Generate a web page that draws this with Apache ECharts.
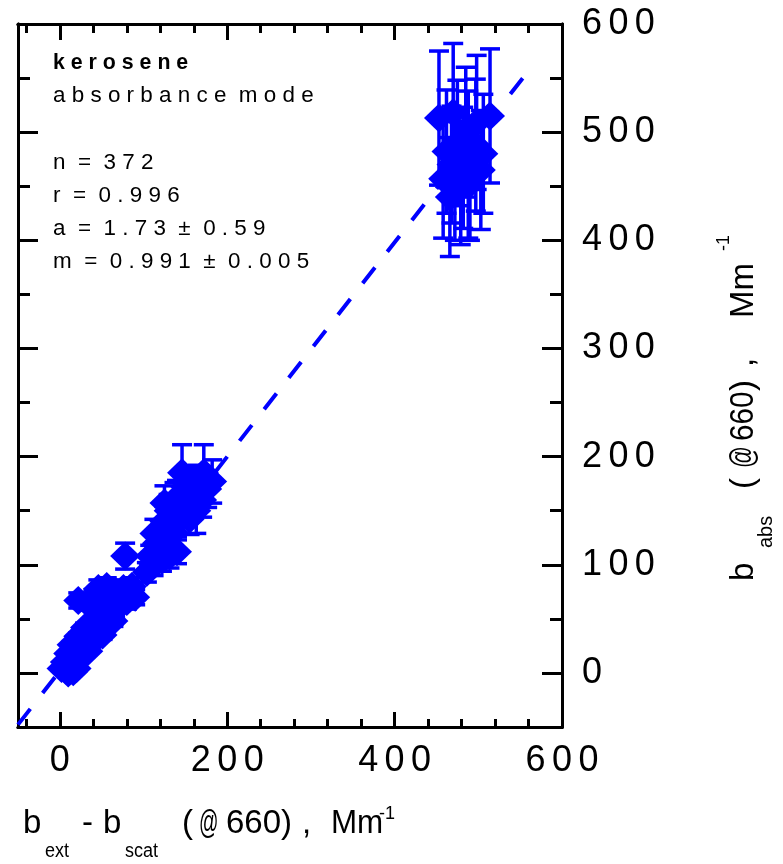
<!DOCTYPE html>
<html>
<head>
<meta charset="utf-8">
<title>kerosene absorbance</title>
<script src="https://cdn.jsdelivr.net/npm/echarts@6/dist/echarts.min.js"></script>
<style>
  html, body { margin: 0; padding: 0; background: #fff; }
  #main { width: 783px; height: 864px; }
</style>
</head>
<body>
<div id="main"></div>
<script>
'use strict';

// b_ext - b_scat (x), b_abs (y) and the error on b_abs, Mm-1
var xVals = [
  2, 8, 14, 20, 10, 16, 6, 12, 18, 24, 10, 16, 22, 28, 34, 14, 20, 26, 32, 36, 22, 28, 34, 40, 46, 51, 30, 38, 44, 50, 56, 42, 50, 60, 64,
  22, 34, 42, 48, 58, 66, 40, 50, 60, 72, 80, 90, 46, 56, 66, 76, 86, 60, 70, 84,
  78, 104, 108, 118, 112, 122, 131, 140, 116, 128, 113, 136, 125, 140, 155, 130, 145, 163, 137, 125, 140, 155, 170, 150, 165, 182, 146, 172, 176,
  453, 470, 498, 514, 497, 488, 466, 458, 479, 503, 468, 482, 475, 485, 462, 490, 506, 472
];
var yVals = [
  4, 2, 5, 4, 0, 1, 10, 12, 10, 14, 18, 20, 22, 20, 20, 26, 28, 30, 28, 26, 34, 36, 38, 35, 36, 35, 42, 44, 42, 40, 46, 50, 52, 50, 48,
  67, 64, 60, 56, 56, 58, 70, 68, 66, 64, 66, 70, 78, 80, 76, 78, 80, 72, 70, 74,
  108, 93, 108, 114, 100, 104, 108, 112, 120, 124, 129, 130, 140, 140, 142, 150, 152, 150, 155, 157, 162, 165, 160, 172, 175, 177, 185, 185, 170,
  513, 518, 509, 515, 488, 470, 440, 457, 453, 465, 470, 467, 490, 500, 482, 452, 480, 455
];
var yErr = [
  1, 1, 1, 1, 1, 1, 1, 1, 1, 2, 2, 2, 2, 2, 2, 3, 3, 3, 3, 3, 3, 4, 4, 4, 4, 4, 4, 4, 4, 4, 5, 5, 5, 5, 5,
  7, 6, 6, 6, 6, 6, 7, 7, 7, 7, 7, 7, 8, 8, 8, 8, 8, 7, 7, 7,
  12, 9, 10, 11, 10, 10, 11, 11, 12, 12, 13, 13, 14, 14, 14, 15, 15, 21, 21, 16, 16, 16, 16, 17, 17, 20, 26, 26, 17,
  62, 64, 62, 62, 61, 68, 55, 55, 57, 55, 54, 56, 58, 60, 57, 52, 55, 55
];

// fit line end points (a = 1.73, m = 0.991)
var fitX = [-50, 560];
var fitY = [-47.8, 556.7];

var xTicks = { min: -50, max: 600, major: 200, minor: 40 };
var yTicks = { min: -50, max: 600, major: 100, minor: 50 };

var noteLines = ['kerosene', 'absorbance mode', 'n = 372', 'r = 0.996', 'a = 1.73 \u00b1 0.59', 'm = 0.991 \u00b1 0.005'];

var FONT = "'Liberation Sans', Arial, sans-serif";
var BLUE = '#0000ff';

// the original has very wide letter spacing, fake it with small spaces
// (a space token between letters, two spaces between words)
function spaced(s) {
  var chars = String(s).split('');
  var out = '';
  chars.forEach(function (c, i) {
    if (c === ' ') {
      out += '{w|  }';
      return;
    }
    if (i > 0 && chars[i - 1] !== ' ') out += '{g| }';
    out += c;
  });
  return out;
}

function makeAxis(dim, pos, step, tickLen, withLabels) {
  var r = dim === 'x' ? xTicks : yTicks;
  var ax = {
    type: 'value',
    position: pos,
    min: r.min,
    max: r.max,
    minInterval: step,
    maxInterval: step,
    axisLine: { show: true, onZero: false, lineStyle: { color: '#000', width: 3 } },
    axisTick: { show: true, inside: true, length: tickLen, lineStyle: { color: '#000', width: 3 } },
    axisLabel: { show: false },
    splitLine: { show: false }
  };
  if (withLabels) {
    ax.axisLabel = {
      show: true,
      showMinLabel: false,
      margin: dim === 'x' ? 16 : 20,
      color: '#000',
      fontFamily: FONT,
      fontSize: 36,
      formatter: function (v) { return spaced(v); },
      rich: { g: { fontSize: 23 } }
    };
  }
  return ax;
}

// title pieces: [text, pos, size, kind, squeeze]  kind: n = normal, s = sub, p = super
var xTitle = [
  ['b', 23, 33, 'n', 1], ['ext', 45, 20, 's', 0.9], ['-', 82, 33, 'n', 1], ['b', 103, 33, 'n', 1], ['scat', 125, 20, 's', 0.9],
  ['(', 182, 33, 'n', 1], ['@', 199, 33, 'n', 0.58], ['660', 226, 33, 'n', 1], [')', 281, 33, 'n', 1], [',', 302, 33, 'n', 1],
  ['Mm', 331, 33, 'n', 0.95], ['-1', 379, 18, 'p', 1]
];
var yTitle = [
  ['b', 581, 33, 'n', 1], ['abs', 548, 20, 's', 1], ['(', 489, 33, 'n', 1], ['@', 468, 33, 'n', 0.65], ['660', 441, 33, 'n', 0.9],
  [')', 391, 33, 'n', 1], [',', 367, 33, 'n', 1], ['Mm', 318, 33, 'n', 1], ['-1', 251, 18, 'p', 1]
];

function textEl(str, x, y, size, rot, bold, squeeze) {
  return {
    type: 'text',
    x: x,
    y: y,
    rotation: rot || 0,
    scaleX: squeeze || 1,
    silent: true,
    style: {
      text: str,
      fill: '#000',
      fontFamily: FONT,
      fontSize: size,
      fontWeight: bold ? 'bold' : 'normal',
      align: 'left',
      verticalAlign: 'top',
      rich: { g: { lineHeight: size }, w: { lineHeight: size } }
    }
  };
}

var graphics = [];
// note block in the upper left
var noteTop = [52, 85, 152, 185, 218, 251];
noteLines.forEach(function (line, i) {
  graphics.push(textEl(spaced(line), 53, noteTop[i], 22, 0, i === 0, i === 0 ? 0.97 : 1.02));
});
// x title, baseline ~835
xTitle.forEach(function (p) {
  var top = p[3] === 'n' ? 807 : (p[3] === 's' ? 841 : 805);
  graphics.push(textEl(p[0], p[1], top, p[2], 0, false, p[4]));
});
// y title, rotated, baseline ~755
yTitle.forEach(function (p) {
  var left = p[3] === 'n' ? 727 : (p[3] === 's' ? 756 : 715);
  graphics.push(textEl(p[0], left, p[1], p[2], Math.PI / 2, false, p[4]));
});

var points = xVals.map(function (x, i) { return [x, yVals[i]]; });
var bars = xVals.map(function (x, i) { return [x, yVals[i] - yErr[i], yVals[i] + yErr[i]]; });
var fitLine = fitX.map(function (x, i) { return [x, fitY[i]]; });

function renderErr(params, api) {
  var x = api.value(0);
  var lo = api.coord([x, api.value(1)]);
  var hi = api.coord([x, api.value(2)]);
  var w = 10;
  var st = { stroke: BLUE, lineWidth: 3.5 };
  return {
    type: 'group',
    children: [
      { type: 'line', shape: { x1: hi[0], y1: hi[1], x2: lo[0], y2: lo[1] }, style: st },
      { type: 'line', shape: { x1: hi[0] - w, y1: hi[1], x2: hi[0] + w, y2: hi[1] }, style: st },
      { type: 'line', shape: { x1: lo[0] - w, y1: lo[1], x2: lo[0] + w, y2: lo[1] }, style: st }
    ]
  };
}

var chart = echarts.init(document.getElementById('main'), null, { renderer: 'canvas' });
chart.setOption({
  animation: false,
  backgroundColor: '#fff',
  grid: { left: 18, top: 24, right: 221, bottom: 137, outerBoundsMode: 'none' },
  xAxis: [
    makeAxis('x', 'bottom', xTicks.major, 15, true),
    makeAxis('x', 'bottom', xTicks.minor, 8, false),
    makeAxis('x', 'top', xTicks.major, 16, false),
    makeAxis('x', 'top', xTicks.minor, 9, false)
  ],
  yAxis: [
    makeAxis('y', 'right', yTicks.major, 20, true),
    makeAxis('y', 'right', yTicks.minor, 12, false),
    makeAxis('y', 'left', yTicks.major, 20, false),
    makeAxis('y', 'left', yTicks.minor, 12, false)
  ],
  graphic: graphics,
  series: [
    {
      type: 'custom',
      renderItem: renderErr,
      data: bars,
      encode: { x: 0, y: [1, 2] },
      silent: true,
      z: 2
    },
    {
      type: 'scatter',
      data: points,
      symbol: 'diamond',
      symbolSize: [30, 29],
      itemStyle: { color: BLUE, opacity: 1 },
      silent: true,
      z: 3
    },
    {
      type: 'line',
      data: fitLine,
      symbol: 'none',
      lineStyle: { color: BLUE, width: 4, type: [20, 20] },
      silent: true,
      z: 4
    }
  ]
});
</script>
</body>
</html>
